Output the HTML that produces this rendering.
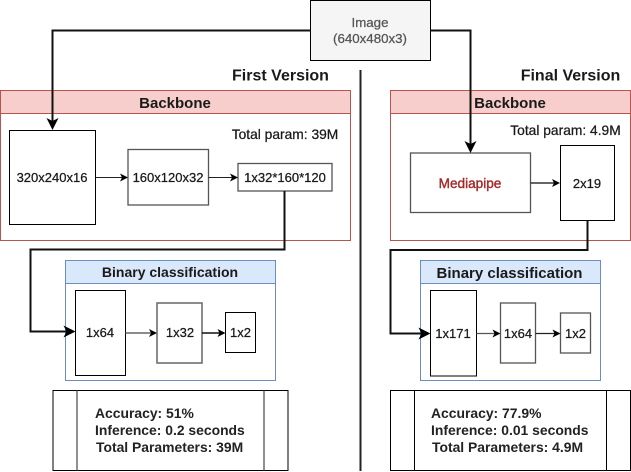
<!DOCTYPE html>
<html><head><meta charset="utf-8"><style>
html,body{margin:0;padding:0;background:#fff}
svg{display:block}
text{font-family:"Liberation Sans",Arial,sans-serif;font-size:13px;fill:#1a1a1a;text-anchor:middle}
.b{font-weight:bold;font-size:15px;stroke:none}
.l{text-anchor:start;font-weight:bold;font-size:13.9px;fill:#222}
.m{stroke:#1a1a1a;stroke-width:.25px}
.p{font-size:13.8px}
.t{font-size:16px;font-weight:bold}
.bx{fill:#fff;stroke:#000;stroke-width:1}
.gb{fill:#fff;stroke:#555;stroke-width:1.3}
.c{fill:none;stroke:#111;stroke-width:2}
.s{fill:none;stroke:#222;stroke-width:1}
.a{fill:#000;stroke:none}
</style></head><body>
<svg width="631" height="472" viewBox="0 0 631 472" xmlns="http://www.w3.org/2000/svg">
<rect x="0.5" y="90.5" width="350" height="150" fill="#fff" stroke="#b85450"/>
<rect x="0.5" y="90.5" width="350" height="23" fill="#f8cecc" stroke="#b85450"/>
<text x="175" y="108" class="b">Backbone</text>
<rect x="390.5" y="90.5" width="240" height="150" fill="#fff" stroke="#b85450"/>
<rect x="390.5" y="90.5" width="240" height="23" fill="#f8cecc" stroke="#b85450"/>
<text x="510" y="108" class="b">Backbone</text>
<rect x="65.5" y="260.5" width="210" height="120" fill="#fff" stroke="#6c8ebf"/>
<rect x="65.5" y="260.5" width="210" height="23" fill="#dae8fc" stroke="#6c8ebf"/>
<text x="170" y="277" class="b" style="font-size:14px">Binary classification</text>
<rect x="420.5" y="260.5" width="180" height="120" fill="#fff" stroke="#6c8ebf"/>
<rect x="420.5" y="260.5" width="180" height="23" fill="#dae8fc" stroke="#6c8ebf"/>
<text x="509.500" y="278" class="b">Binary classification</text>

<rect x="310.5" y="0.5" width="120" height="60" fill="#f5f5f5" stroke="#000"/>
<text x="370" y="27" class="m" style="fill:#555;stroke:#555;font-size:13.300px">Image</text>
<text x="370" y="43" class="m" style="fill:#555;stroke:#555;font-size:13.300px">(640x480x3)</text>

<line x1="360.5" y1="70" x2="360.5" y2="471" stroke="#222" stroke-width="2"/>
<text x="280.5" y="80.500" class="t">First Version</text>
<text x="570.5" y="80.500" class="t">Final Version</text>
<text x="285" y="139" class="m p">Total param: 39M</text>
<text x="565.500" y="135" class="m p">Total param: 4.9M</text>

<rect x="9.5" y="130.5" width="86" height="94" class="bx"/>
<text x="52" y="182" class="m">320x240x16</text>
<rect x="128" y="149.500" width="80.500" height="55.500" class="gb"/>
<text x="168" y="182" class="m">160x120x32</text>
<rect x="238" y="163.500" width="94" height="27.500" class="gb"/>
<text x="285" y="182" class="m">1x32*160*120</text>

<rect x="410.500" y="153" width="120" height="59.500" class="gb"/>
<text x="470" y="188" style="fill:#a52a2a;stroke:#a52a2a;stroke-width:.4px;font-size:13.600px">Mediapipe</text>
<rect x="560.500" y="145.500" width="54" height="75" class="bx"/>
<text x="587" y="188" class="m">2x19</text>

<rect x="75.500" y="290.500" width="50" height="85" class="bx"/>
<text x="100" y="337" class="m">1x64</text>
<rect x="157" y="303" width="45" height="60" fill="#fff" stroke="#666" stroke-width="1.500"/>
<text x="180" y="337" class="m">1x32</text>
<rect x="225.500" y="312.500" width="30" height="40" class="bx"/>
<text x="240.500" y="337" class="m">1x2</text>

<rect x="430.500" y="290.500" width="46" height="85.500" class="bx"/>
<text x="453" y="338" class="m">1x171</text>
<rect x="500.500" y="303" width="35" height="60" class="gb"/>
<text x="518" y="338" class="m">1x64</text>
<rect x="560.500" y="313" width="30" height="40" class="gb"/>
<text x="575.500" y="338" class="m">1x2</text>

<rect x="53" y="390.500" width="235" height="80" class="bx"/>
<line x1="77" y1="390.500" x2="77" y2="470.500" stroke="#555" stroke-width="1.300"/>
<line x1="264" y1="390.500" x2="264" y2="470.500" stroke="#555" stroke-width="1.300"/>
<text x="95" y="418" class="l">Accuracy: 51%</text>
<text x="95" y="435" class="l">Inference: 0.2 seconds</text>
<text x="96" y="452" class="l">Total Parameters: 39M</text>

<rect x="390.500" y="390.500" width="240" height="80" class="bx"/>
<line x1="414.500" y1="390.500" x2="414.500" y2="470.500" stroke="#000"/>
<line x1="606.500" y1="390.500" x2="606.500" y2="470.500" stroke="#000"/>
<text x="431" y="418" class="l">Accuracy: 77.9%</text>
<text x="431" y="435" class="l">Inference: 0.01 seconds</text>
<text x="432" y="452" class="l">Total Parameters: 4.9M</text>

<path class="c" d="M310.500 30.500H52.500V122"/>
<path class="a" d="M52.500 130L46.500 118L52.500 121L58.500 118Z"/>
<path class="c" d="M430.500 30.500H470.500V145"/>
<path class="a" d="M470.500 153L464.500 141L470.500 144L476.500 141Z"/>
<path class="c" d="M284.500 191V249.500H30.500V331.500H68"/>
<path class="a" d="M75.500 331.500L63.500 325.500L66.500 331.500L63.500 337.500Z"/>
<path class="c" d="M587.500 220.500V250H390.500V333.500H424"/>
<path class="a" d="M430.500 333.500L418.500 327.500L421.500 333.500L418.500 339.500Z"/>

<path class="s" d="M95.500 177.500H124"/><path class="a" d="M128 177.500L120 173.500L122 177.500L120 181.500Z"/>
<path class="s" d="M208.500 177.500H234"/><path class="a" d="M238 177.500L230 173.500L232 177.500L230 181.500Z"/>
<path d="M530.500 183H555" fill="none" stroke="#333" stroke-width="1.500"/><path class="a" d="M560 183L552 179L554 183L552 187Z"/>
<path d="M125.500 333H153" fill="none" stroke="#666" stroke-width="1.500"/><path class="a" d="M157 333L149 329L151 333L149 337Z"/>
<path d="M202 333H221" fill="none" stroke="#111" stroke-width="1.500"/><path class="a" d="M225.500 333L217.500 329L219.500 333L217.500 337Z"/>
<path d="M476.500 333.500H496" fill="none" stroke="#555" stroke-width="1.200"/><path class="a" d="M500.500 333.500L492.500 329.500L494.500 333.500L492.500 337.500Z"/>
<path d="M535.500 333.500H556" fill="none" stroke="#222" stroke-width="1.200"/><path class="a" d="M560.500 333.500L552.500 329.500L554.500 333.500L552.500 337.500Z"/>
</svg>
</body></html>
